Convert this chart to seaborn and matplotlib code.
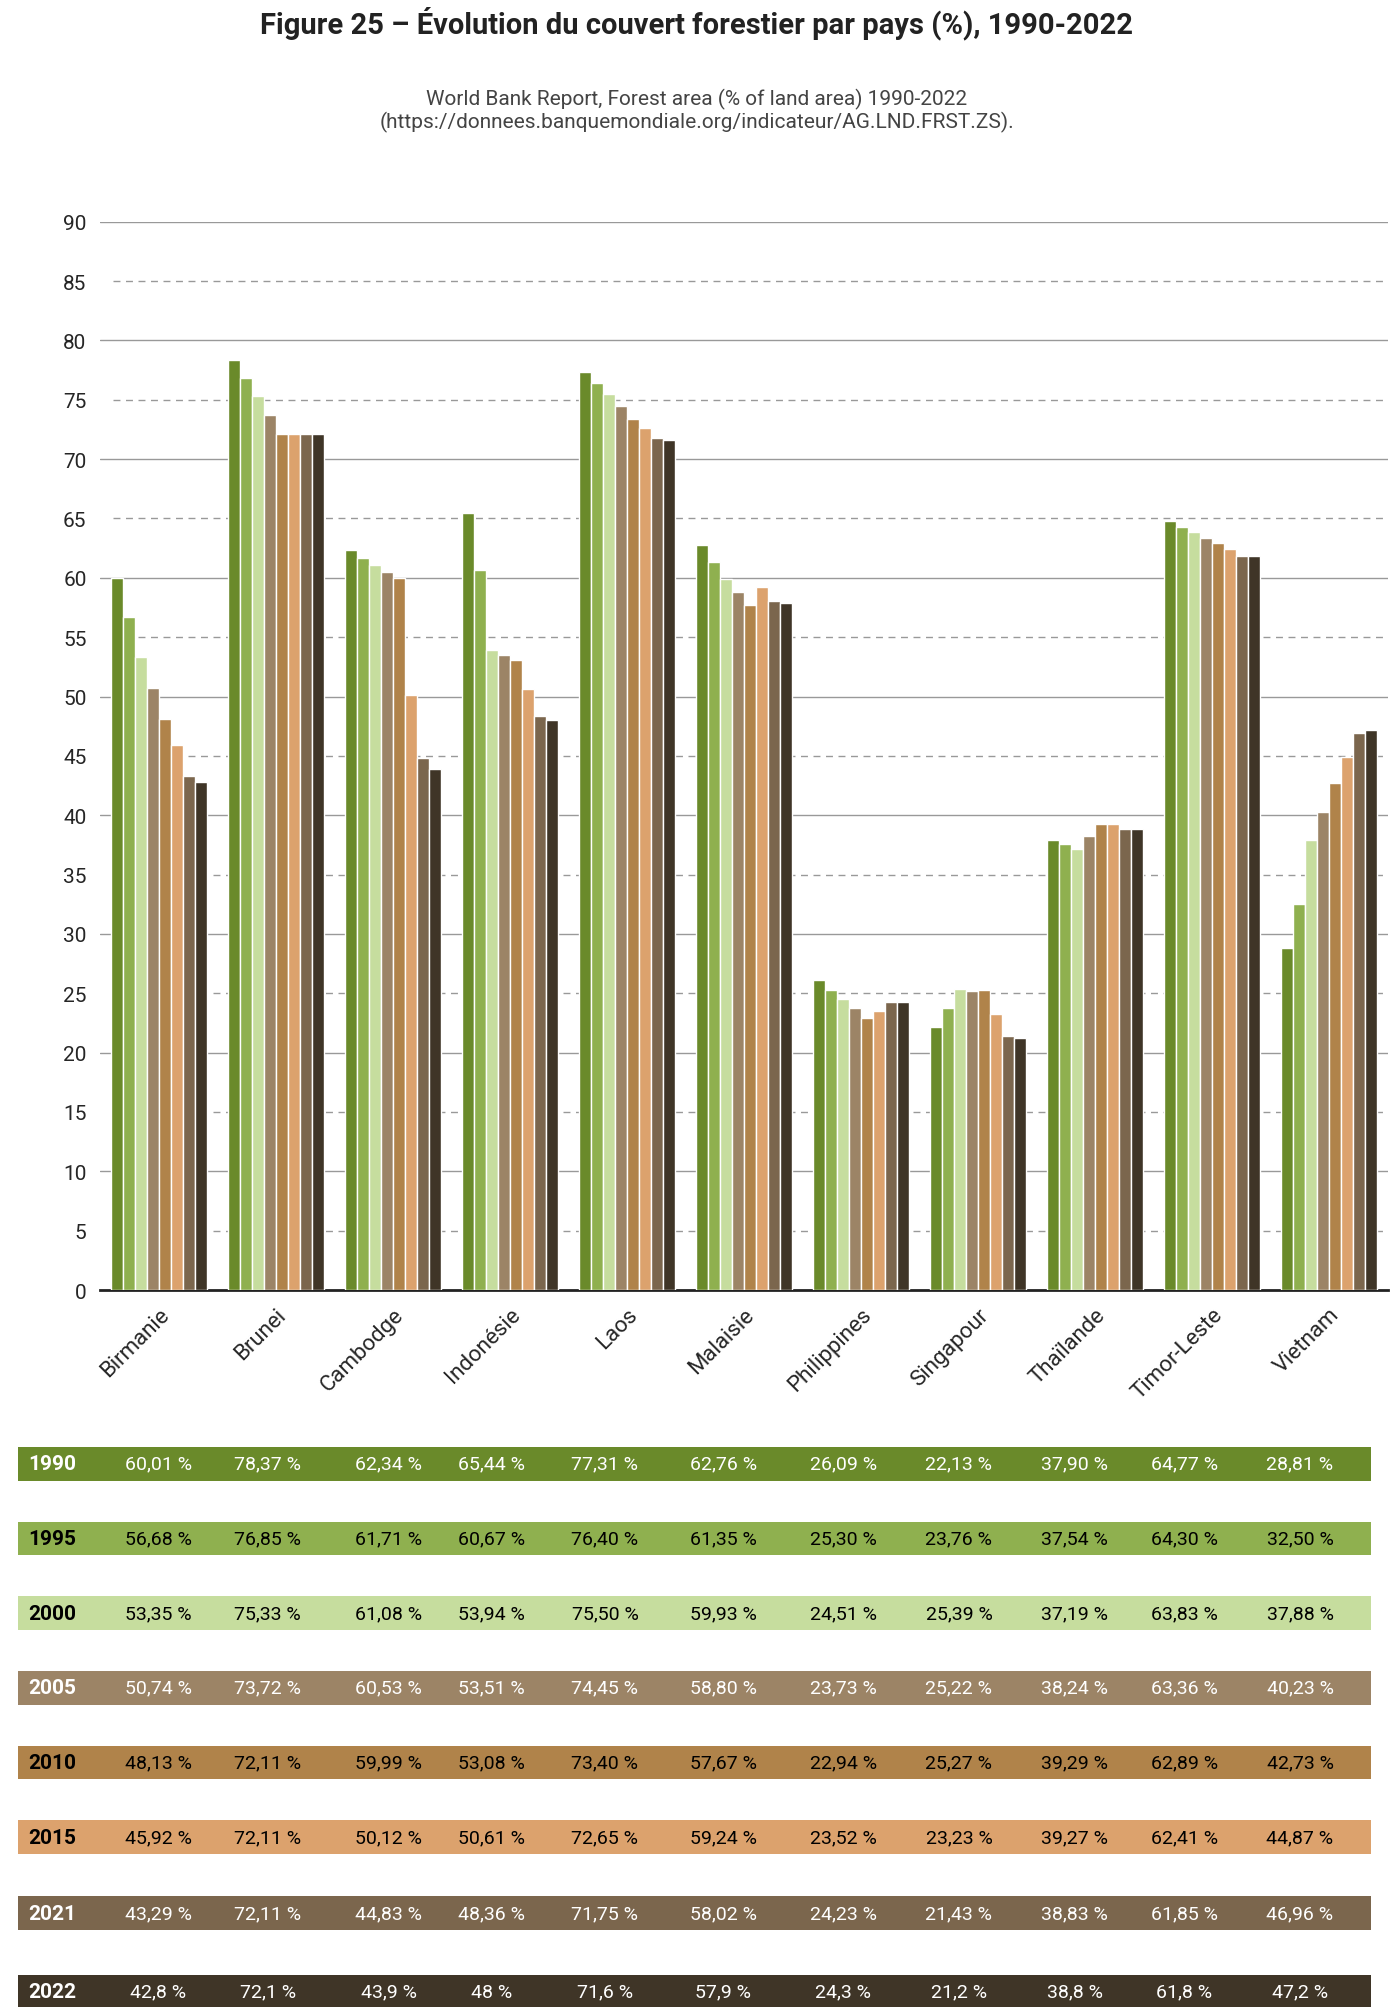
import matplotlib
matplotlib.use("Agg")
import matplotlib.pyplot as plt
import seaborn as sns
import pandas as pd

countries = ["Birmanie", "Brunei", "Cambodge", "Indonésie", "Laos", "Malaisie",
             "Philippines", "Singapour", "Thaïlande", "Timor-Leste", "Vietnam"]
years = ["1990", "1995", "2000", "2005", "2010", "2015", "2021", "2022"]
v1990 = [60.01, 78.37, 62.34, 65.44, 77.31, 62.76, 26.09, 22.13, 37.90, 64.77, 28.81]
v1995 = [56.68, 76.85, 61.71, 60.67, 76.40, 61.35, 25.30, 23.76, 37.54, 64.30, 32.50]
v2000 = [53.35, 75.33, 61.08, 53.94, 75.50, 59.93, 24.51, 25.39, 37.19, 63.83, 37.88]
v2005 = [50.74, 73.72, 60.53, 53.51, 74.45, 58.80, 23.73, 25.22, 38.24, 63.36, 40.23]
v2010 = [48.13, 72.11, 59.99, 53.08, 73.40, 57.67, 22.94, 25.27, 39.29, 62.89, 42.73]
v2015 = [45.92, 72.11, 50.12, 50.61, 72.65, 59.24, 23.52, 23.23, 39.27, 62.41, 44.87]
v2021 = [43.29, 72.11, 44.83, 48.36, 71.75, 58.02, 24.23, 21.43, 38.83, 61.85, 46.96]
v2022 = [42.8, 72.1, 43.9, 48.0, 71.6, 57.9, 24.3, 21.2, 38.8, 61.8, 47.2]
series = [v1990, v1995, v2000, v2005, v2010, v2015, v2021, v2022]
colors = ["#6a8a2a", "#8fb04f", "#c6dd9e", "#9c8466", "#b0834a", "#dca26d", "#7b664d", "#3f3527"]
text_colors = ["white", "black", "black", "white", "black", "black", "white", "white"]

sns.set_theme(style="white")
plt.rcParams['font.family'] = ['Liberation Sans Narrow', 'Roboto', 'DejaVu Sans']

rows = []
for y, vals in zip(years, series):
    for c, v in zip(countries, vals):
        rows.append({"pays": c, "annee": y, "valeur": v})
df = pd.DataFrame(rows)

fig = plt.figure(figsize=(13.94, 20.08), dpi=100)
W, H = 1083, 1560
ax = fig.add_axes([78 / W, 1 - 1003 / H, 1000 / W, 830 / H])
sns.barplot(data=df, x="pays", y="valeur", hue="annee", palette=colors,
            width=0.82, gap=0, ax=ax, legend=False, saturation=1, zorder=3)
ax.set_ylim(0, 90)
ax.set_yticks(range(0, 91, 5))
ax.set_xlim(-0.5, len(countries) - 0.5)
for t in range(10, 91, 10):
    ax.axhline(t, color="#999999", lw=1, zorder=1)
for t in range(5, 90, 10):
    ax.axhline(t, color="#999999", lw=1, ls=(0, (5, 4)), zorder=1, xmin=0.01)
for s in ["top", "right", "left"]:
    ax.spines[s].set_visible(False)
ax.spines["bottom"].set_color("#222222")
ax.spines["bottom"].set_linewidth(2)
ax.set_xlabel("")
ax.set_ylabel("")
ax.tick_params(axis="y", labelsize=15, length=0, pad=10)
ax.tick_params(axis="x", labelsize=16, length=0, pad=10)
plt.setp(ax.get_xticklabels(), rotation=45, ha="right", rotation_mode="anchor")

fig.text(0.5, 1 - 18 / H, "Figure 25 – Évolution du couvert forestier par pays (%), 1990-2022",
         ha="center", va="center", fontsize=21, fontweight="bold", color="#222222")
fig.text(0.5, 1 - 86 / H, "World Bank Report, Forest area (% of land area) 1990-2022\n"
         "(https://donnees.banquemondiale.org/indicateur/AG.LND.FRST.ZS).",
         ha="center", va="center", fontsize=15, color="#444444",
         linespacing=1.1)

# tableau des valeurs
tax = fig.add_axes([0, 0, 1, 1 - 1092 / H])
tax.set_xlim(0, W)
tax.set_ylim(H, 1092)
tax.axis("off")
row_y = [1138, 1196, 1254, 1312, 1370, 1428, 1487, 1548]
col_x = [123, 208, 302, 382, 470, 562, 655, 745, 835, 920, 1010]
for y, lab, vals, col, tc in zip(row_y, years, series, colors, text_colors):
    tax.add_patch(plt.Rectangle((14, y - 13), 1051, 26, color=col, lw=0))
    tax.text(22, y, lab, ha="left", va="center", fontsize=15, fontweight="bold", color=tc)
    for x, v in zip(col_x, vals):
        if lab == "2022":
            s = f"{v:g}".replace(".", ",") + " %"
        else:
            s = f"{v:.2f}".replace(".", ",") + " %"
        tax.text(x, y, s, ha="center", va="center", fontsize=14, color=tc)

fig.savefig("out.png", dpi=100)
